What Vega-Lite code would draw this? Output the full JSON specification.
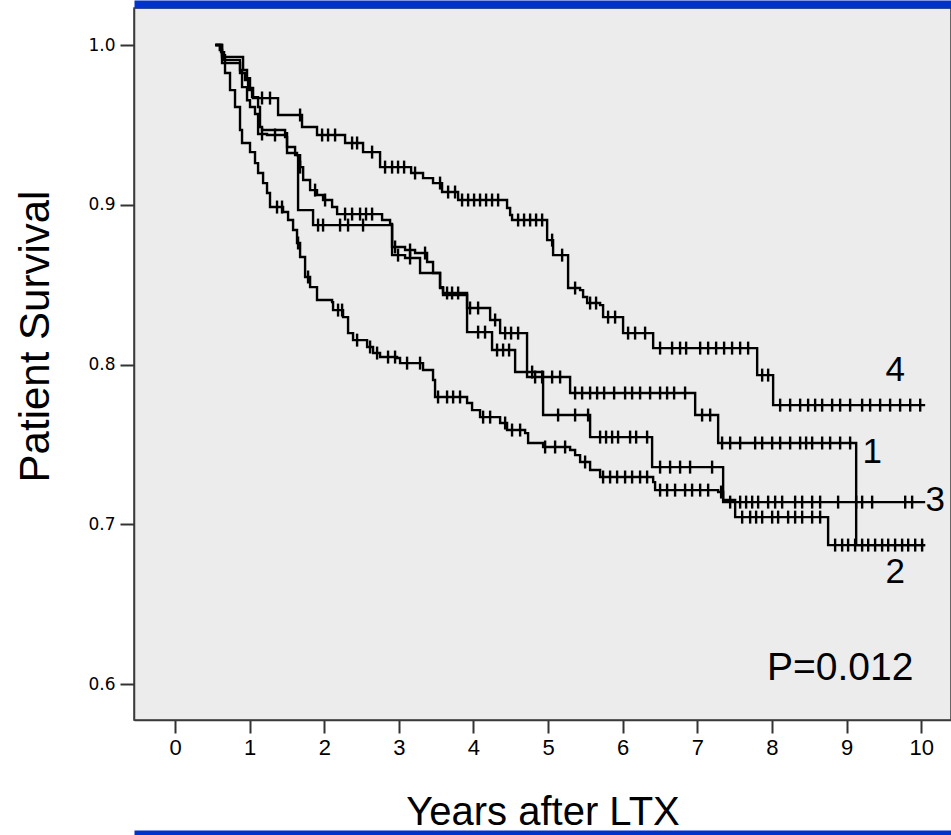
{
  "$schema": "https://vega.github.io/schema/vega-lite/v6.json",
  "width": 817,
  "height": 712,
  "autosize": {"type": "none"},
  "padding": {"left": 134, "top": 8, "right": 0, "bottom": 115},
  "background": "white",
  "config": {
    "view": {"fill": "#ececec", "stroke": "#3a3a3a", "strokeWidth": 1.5},
    "font": "Liberation Sans"
  },
  "resolve": {"axis": {"x": "independent", "y": "independent"}},
  "datasets": {
    "km": [
      {"g":"4","t":0.54,"s":1.0},{"g":"4","t":0.630,"s":0.9925},{"g":"4","t":0.912,"s":0.9844},{"g":"4","t":0.965,"s":0.9793},{"g":"4","t":1.005,"s":0.9731},{"g":"4","t":1.046,"s":0.9668},{"g":"4","t":1.381,"s":0.9562},{"g":"4","t":1.702,"s":0.9487},{"g":"4","t":1.903,"s":0.9437},{"g":"4","t":2.279,"s":0.9387},{"g":"4","t":2.520,"s":0.9330},{"g":"4","t":2.748,"s":0.9236},{"g":"4","t":3.164,"s":0.9199},{"g":"4","t":3.324,"s":0.9167},{"g":"4","t":3.458,"s":0.9136},{"g":"4","t":3.579,"s":0.9080},{"g":"4","t":3.794,"s":0.9030},{"g":"4","t":4.450,"s":0.8980},{"g":"4","t":4.491,"s":0.8936},{"g":"4","t":4.517,"s":0.8905},{"g":"4","t":4.987,"s":0.8779},{"g":"4","t":5.067,"s":0.8685},{"g":"4","t":5.268,"s":0.8479},{"g":"4","t":5.429,"s":0.8466},{"g":"4","t":5.469,"s":0.8423},{"g":"4","t":5.523,"s":0.8385},{"g":"4","t":5.697,"s":0.8372},{"g":"4","t":5.737,"s":0.8297},{"g":"4","t":6.005,"s":0.8197},{"g":"4","t":6.408,"s":0.8103},{"g":"4","t":7.802,"s":0.7934},{"g":"4","t":8.016,"s":0.7746},{"g":"4","t":10.054,"s":0.7746},
      {"g":"1","t":0.54,"s":1.0},{"g":"1","t":0.617,"s":0.9956},{"g":"1","t":0.657,"s":0.9906},{"g":"1","t":0.871,"s":0.9844},{"g":"1","t":0.898,"s":0.9737},{"g":"1","t":0.965,"s":0.9655},{"g":"1","t":1.005,"s":0.9612},{"g":"1","t":1.072,"s":0.9568},{"g":"1","t":1.113,"s":0.9443},{"g":"1","t":1.233,"s":0.9437},{"g":"1","t":1.475,"s":0.9424},{"g":"1","t":1.501,"s":0.9362},{"g":"1","t":1.609,"s":0.9311},{"g":"1","t":1.676,"s":0.9236},{"g":"1","t":1.717,"s":0.9155},{"g":"1","t":1.810,"s":0.9092},{"g":"1","t":1.903,"s":0.9061},{"g":"1","t":1.984,"s":0.9030},{"g":"1","t":2.105,"s":0.8986},{"g":"1","t":2.172,"s":0.8942},{"g":"1","t":2.775,"s":0.8905},{"g":"1","t":2.882,"s":0.8880},{"g":"1","t":2.909,"s":0.8736},{"g":"1","t":3.083,"s":0.8717},{"g":"1","t":3.217,"s":0.8698},{"g":"1","t":3.378,"s":0.8642},{"g":"1","t":3.458,"s":0.8573},{"g":"1","t":3.552,"s":0.8485},{"g":"1","t":3.592,"s":0.8448},{"g":"1","t":3.914,"s":0.8354},{"g":"1","t":4.223,"s":0.8279},{"g":"1","t":4.357,"s":0.8197},{"g":"1","t":4.718,"s":0.7922},{"g":"1","t":5.295,"s":0.7822},{"g":"1","t":6.971,"s":0.7684},{"g":"1","t":7.279,"s":0.7509},{"g":"1","t":9.129,"s":0.6870},{"g":"1","t":10.054,"s":0.6870},
      {"g":"3","t":0.54,"s":1.0},{"g":"3","t":0.630,"s":0.9937},{"g":"3","t":0.670,"s":0.9887},{"g":"3","t":0.871,"s":0.9825},{"g":"3","t":0.938,"s":0.9781},{"g":"3","t":0.979,"s":0.9718},{"g":"3","t":1.032,"s":0.9674},{"g":"3","t":1.113,"s":0.9612},{"g":"3","t":1.139,"s":0.9487},{"g":"3","t":1.166,"s":0.9468},{"g":"3","t":1.475,"s":0.9449},{"g":"3","t":1.501,"s":0.9324},{"g":"3","t":1.635,"s":0.9311},{"g":"3","t":1.649,"s":0.8967},{"g":"3","t":1.850,"s":0.8873},{"g":"3","t":2.909,"s":0.8685},{"g":"3","t":3.083,"s":0.8667},{"g":"3","t":3.284,"s":0.8573},{"g":"3","t":3.552,"s":0.8479},{"g":"3","t":3.592,"s":0.8435},{"g":"3","t":3.914,"s":0.8203},{"g":"3","t":4.249,"s":0.8091},{"g":"3","t":4.558,"s":0.7953},{"g":"3","t":4.933,"s":0.7684},{"g":"3","t":5.563,"s":0.7546},{"g":"3","t":6.394,"s":0.7358},{"g":"3","t":7.346,"s":0.7139},{"g":"3","t":10.054,"s":0.7139},
      {"g":"2","t":0.54,"s":1.0},{"g":"2","t":0.600,"s":0.9969},{"g":"2","t":0.630,"s":0.9887},{"g":"2","t":0.670,"s":0.9825},{"g":"2","t":0.737,"s":0.9718},{"g":"2","t":0.804,"s":0.9612},{"g":"2","t":0.871,"s":0.9468},{"g":"2","t":0.898,"s":0.9387},{"g":"2","t":1.005,"s":0.9330},{"g":"2","t":1.072,"s":0.9261},{"g":"2","t":1.113,"s":0.9199},{"g":"2","t":1.180,"s":0.9136},{"g":"2","t":1.233,"s":0.9074},{"g":"2","t":1.273,"s":0.8986},{"g":"2","t":1.448,"s":0.8955},{"g":"2","t":1.515,"s":0.8905},{"g":"2","t":1.582,"s":0.8842},{"g":"2","t":1.635,"s":0.8761},{"g":"2","t":1.676,"s":0.8673},{"g":"2","t":1.743,"s":0.8548},{"g":"2","t":1.810,"s":0.8485},{"g":"2","t":1.903,"s":0.8404},{"g":"2","t":2.105,"s":0.8391},{"g":"2","t":2.118,"s":0.8341},{"g":"2","t":2.252,"s":0.8297},{"g":"2","t":2.319,"s":0.8197},{"g":"2","t":2.386,"s":0.8153},{"g":"2","t":2.574,"s":0.8110},{"g":"2","t":2.654,"s":0.8072},{"g":"2","t":2.748,"s":0.8047},{"g":"2","t":2.976,"s":0.8041},{"g":"2","t":3.016,"s":0.8009},{"g":"2","t":3.324,"s":0.7966},{"g":"2","t":3.458,"s":0.7903},{"g":"2","t":3.485,"s":0.7797},{"g":"2","t":3.914,"s":0.7759},{"g":"2","t":3.981,"s":0.7715},{"g":"2","t":4.088,"s":0.7671},{"g":"2","t":4.357,"s":0.7634},{"g":"2","t":4.450,"s":0.7590},{"g":"2","t":4.692,"s":0.7571},{"g":"2","t":4.732,"s":0.7509},{"g":"2","t":4.933,"s":0.7484},{"g":"2","t":5.295,"s":0.7465},{"g":"2","t":5.362,"s":0.7433},{"g":"2","t":5.429,"s":0.7390},{"g":"2","t":5.563,"s":0.7340},{"g":"2","t":5.697,"s":0.7296},{"g":"2","t":6.408,"s":0.7264},{"g":"2","t":6.434,"s":0.7214},{"g":"2","t":7.279,"s":0.7202},{"g":"2","t":7.346,"s":0.7152},{"g":"2","t":7.507,"s":0.7045},{"g":"2","t":8.753,"s":0.6870},{"g":"2","t":10.054,"s":0.6870}
    ],
    "cens": [
      {"g":"4","t":1.166,"s":0.9668},{"g":"4","t":1.273,"s":0.9668},{"g":"4","t":1.676,"s":0.9562},{"g":"4","t":1.971,"s":0.9437},{"g":"4","t":2.051,"s":0.9437},{"g":"4","t":2.145,"s":0.9437},{"g":"4","t":2.373,"s":0.9387},{"g":"4","t":2.440,"s":0.9387},{"g":"4","t":2.641,"s":0.9330},{"g":"4","t":2.815,"s":0.9236},{"g":"4","t":2.909,"s":0.9236},{"g":"4","t":2.989,"s":0.9236},{"g":"4","t":3.070,"s":0.9236},{"g":"4","t":3.217,"s":0.9199},{"g":"4","t":3.552,"s":0.9136},{"g":"4","t":3.660,"s":0.9080},{"g":"4","t":3.753,"s":0.9080},{"g":"4","t":3.847,"s":0.9030},{"g":"4","t":3.928,"s":0.9030},{"g":"4","t":4.008,"s":0.9030},{"g":"4","t":4.088,"s":0.9030},{"g":"4","t":4.169,"s":0.9030},{"g":"4","t":4.249,"s":0.9030},{"g":"4","t":4.330,"s":0.9030},{"g":"4","t":4.598,"s":0.8905},{"g":"4","t":4.678,"s":0.8905},{"g":"4","t":4.759,"s":0.8905},{"g":"4","t":4.839,"s":0.8905},{"g":"4","t":4.920,"s":0.8905},{"g":"4","t":5.054,"s":0.8779},{"g":"4","t":5.188,"s":0.8685},{"g":"4","t":5.362,"s":0.8479},{"g":"4","t":5.563,"s":0.8385},{"g":"4","t":5.643,"s":0.8385},{"g":"4","t":5.804,"s":0.8297},{"g":"4","t":5.898,"s":0.8297},{"g":"4","t":6.072,"s":0.8197},{"g":"4","t":6.166,"s":0.8197},{"g":"4","t":6.300,"s":0.8197},{"g":"4","t":6.501,"s":0.8103},{"g":"4","t":6.662,"s":0.8103},{"g":"4","t":6.769,"s":0.8103},{"g":"4","t":6.850,"s":0.8103},{"g":"4","t":7.038,"s":0.8103},{"g":"4","t":7.145,"s":0.8103},{"g":"4","t":7.252,"s":0.8103},{"g":"4","t":7.359,"s":0.8103},{"g":"4","t":7.466,"s":0.8103},{"g":"4","t":7.574,"s":0.8103},{"g":"4","t":7.681,"s":0.8103},{"g":"4","t":7.869,"s":0.7934},{"g":"4","t":7.949,"s":0.7934},{"g":"4","t":8.110,"s":0.7746},{"g":"4","t":8.244,"s":0.7746},{"g":"4","t":8.378,"s":0.7746},{"g":"4","t":8.485,"s":0.7746},{"g":"4","t":8.579,"s":0.7746},{"g":"4","t":8.673,"s":0.7746},{"g":"4","t":8.807,"s":0.7746},{"g":"4","t":8.914,"s":0.7746},{"g":"4","t":9.048,"s":0.7746},{"g":"4","t":9.209,"s":0.7746},{"g":"4","t":9.316,"s":0.7746},{"g":"4","t":9.450,"s":0.7746},{"g":"4","t":9.584,"s":0.7746},{"g":"4","t":9.718,"s":0.7746},{"g":"4","t":9.853,"s":0.7746},{"g":"4","t":9.987,"s":0.7746},
      {"g":"1","t":1.166,"s":0.9443},{"g":"1","t":1.340,"s":0.9437},{"g":"1","t":1.676,"s":0.9236},{"g":"1","t":1.877,"s":0.9092},{"g":"1","t":2.011,"s":0.9030},{"g":"1","t":2.279,"s":0.8942},{"g":"1","t":2.373,"s":0.8942},{"g":"1","t":2.480,"s":0.8942},{"g":"1","t":2.560,"s":0.8942},{"g":"1","t":2.641,"s":0.8942},{"g":"1","t":2.949,"s":0.8736},{"g":"1","t":3.150,"s":0.8717},{"g":"1","t":3.351,"s":0.8698},{"g":"1","t":3.646,"s":0.8448},{"g":"1","t":3.713,"s":0.8448},{"g":"1","t":3.794,"s":0.8448},{"g":"1","t":3.954,"s":0.8354},{"g":"1","t":4.062,"s":0.8354},{"g":"1","t":4.290,"s":0.8279},{"g":"1","t":4.424,"s":0.8197},{"g":"1","t":4.504,"s":0.8197},{"g":"1","t":4.598,"s":0.8197},{"g":"1","t":4.826,"s":0.7922},{"g":"1","t":4.920,"s":0.7922},{"g":"1","t":5.054,"s":0.7922},{"g":"1","t":5.161,"s":0.7922},{"g":"1","t":5.362,"s":0.7822},{"g":"1","t":5.456,"s":0.7822},{"g":"1","t":5.563,"s":0.7822},{"g":"1","t":5.657,"s":0.7822},{"g":"1","t":5.751,"s":0.7822},{"g":"1","t":5.885,"s":0.7822},{"g":"1","t":6.032,"s":0.7822},{"g":"1","t":6.126,"s":0.7822},{"g":"1","t":6.233,"s":0.7822},{"g":"1","t":6.367,"s":0.7822},{"g":"1","t":6.501,"s":0.7822},{"g":"1","t":6.595,"s":0.7822},{"g":"1","t":6.689,"s":0.7822},{"g":"1","t":6.836,"s":0.7822},{"g":"1","t":7.064,"s":0.7684},{"g":"1","t":7.172,"s":0.7684},{"g":"1","t":7.332,"s":0.7509},{"g":"1","t":7.440,"s":0.7509},{"g":"1","t":7.574,"s":0.7509},{"g":"1","t":7.775,"s":0.7509},{"g":"1","t":7.869,"s":0.7509},{"g":"1","t":8.003,"s":0.7509},{"g":"1","t":8.110,"s":0.7509},{"g":"1","t":8.244,"s":0.7509},{"g":"1","t":8.378,"s":0.7509},{"g":"1","t":8.458,"s":0.7509},{"g":"1","t":8.539,"s":0.7509},{"g":"1","t":8.673,"s":0.7509},{"g":"1","t":8.780,"s":0.7509},{"g":"1","t":8.914,"s":0.7509},{"g":"1","t":9.048,"s":0.7509},
      {"g":"3","t":1.917,"s":0.8873},{"g":"3","t":1.984,"s":0.8873},{"g":"3","t":2.212,"s":0.8873},{"g":"3","t":2.319,"s":0.8873},{"g":"3","t":2.520,"s":0.8873},{"g":"3","t":2.989,"s":0.8685},{"g":"3","t":3.150,"s":0.8667},{"g":"3","t":4.062,"s":0.8203},{"g":"3","t":4.155,"s":0.8203},{"g":"3","t":4.316,"s":0.8091},{"g":"3","t":4.397,"s":0.8091},{"g":"3","t":4.477,"s":0.8091},{"g":"3","t":4.786,"s":0.7953},{"g":"3","t":5.134,"s":0.7684},{"g":"3","t":5.362,"s":0.7684},{"g":"3","t":5.536,"s":0.7684},{"g":"3","t":5.697,"s":0.7546},{"g":"3","t":5.777,"s":0.7546},{"g":"3","t":5.858,"s":0.7546},{"g":"3","t":5.938,"s":0.7546},{"g":"3","t":6.099,"s":0.7546},{"g":"3","t":6.180,"s":0.7546},{"g":"3","t":6.327,"s":0.7546},{"g":"3","t":6.501,"s":0.7358},{"g":"3","t":6.635,"s":0.7358},{"g":"3","t":6.769,"s":0.7358},{"g":"3","t":6.903,"s":0.7358},{"g":"3","t":7.198,"s":0.7358},{"g":"3","t":7.440,"s":0.7139},{"g":"3","t":7.574,"s":0.7139},{"g":"3","t":7.654,"s":0.7139},{"g":"3","t":7.735,"s":0.7139},{"g":"3","t":7.815,"s":0.7139},{"g":"3","t":7.949,"s":0.7139},{"g":"3","t":8.043,"s":0.7139},{"g":"3","t":8.137,"s":0.7139},{"g":"3","t":8.311,"s":0.7139},{"g":"3","t":8.405,"s":0.7139},{"g":"3","t":8.539,"s":0.7139},{"g":"3","t":8.646,"s":0.7139},{"g":"3","t":8.887,"s":0.7139},{"g":"3","t":9.129,"s":0.7139},{"g":"3","t":9.209,"s":0.7139},{"g":"3","t":9.343,"s":0.7139},{"g":"3","t":9.786,"s":0.7139},{"g":"3","t":9.879,"s":0.7139},
      {"g":"2","t":1.367,"s":0.8986},{"g":"2","t":1.434,"s":0.8986},{"g":"2","t":1.649,"s":0.8761},{"g":"2","t":1.783,"s":0.8548},{"g":"2","t":2.185,"s":0.8341},{"g":"2","t":2.239,"s":0.8341},{"g":"2","t":2.440,"s":0.8153},{"g":"2","t":2.614,"s":0.8110},{"g":"2","t":2.708,"s":0.8072},{"g":"2","t":2.855,"s":0.8047},{"g":"2","t":2.949,"s":0.8047},{"g":"2","t":3.110,"s":0.8009},{"g":"2","t":3.284,"s":0.8009},{"g":"2","t":3.525,"s":0.7797},{"g":"2","t":3.646,"s":0.7797},{"g":"2","t":3.727,"s":0.7797},{"g":"2","t":3.820,"s":0.7797},{"g":"2","t":4.129,"s":0.7671},{"g":"2","t":4.223,"s":0.7671},{"g":"2","t":4.424,"s":0.7634},{"g":"2","t":4.517,"s":0.7590},{"g":"2","t":4.625,"s":0.7590},{"g":"2","t":4.960,"s":0.7484},{"g":"2","t":5.094,"s":0.7484},{"g":"2","t":5.228,"s":0.7484},{"g":"2","t":5.496,"s":0.7390},{"g":"2","t":5.737,"s":0.7296},{"g":"2","t":5.831,"s":0.7296},{"g":"2","t":5.925,"s":0.7296},{"g":"2","t":6.032,"s":0.7296},{"g":"2","t":6.126,"s":0.7296},{"g":"2","t":6.233,"s":0.7296},{"g":"2","t":6.327,"s":0.7296},{"g":"2","t":6.501,"s":0.7214},{"g":"2","t":6.595,"s":0.7214},{"g":"2","t":6.702,"s":0.7214},{"g":"2","t":6.836,"s":0.7214},{"g":"2","t":6.930,"s":0.7214},{"g":"2","t":7.038,"s":0.7214},{"g":"2","t":7.145,"s":0.7214},{"g":"2","t":7.319,"s":0.7202},{"g":"2","t":7.601,"s":0.7045},{"g":"2","t":7.708,"s":0.7045},{"g":"2","t":7.788,"s":0.7045},{"g":"2","t":7.869,"s":0.7045},{"g":"2","t":8.003,"s":0.7045},{"g":"2","t":8.083,"s":0.7045},{"g":"2","t":8.217,"s":0.7045},{"g":"2","t":8.311,"s":0.7045},{"g":"2","t":8.405,"s":0.7045},{"g":"2","t":8.539,"s":0.7045},{"g":"2","t":8.646,"s":0.7045},{"g":"2","t":8.847,"s":0.6870},{"g":"2","t":8.941,"s":0.6870},{"g":"2","t":9.021,"s":0.6870},{"g":"2","t":9.115,"s":0.6870},{"g":"2","t":9.209,"s":0.6870},{"g":"2","t":9.290,"s":0.6870},{"g":"2","t":9.383,"s":0.6870},{"g":"2","t":9.477,"s":0.6870},{"g":"2","t":9.558,"s":0.6870},{"g":"2","t":9.651,"s":0.6870},{"g":"2","t":9.745,"s":0.6870},{"g":"2","t":9.826,"s":0.6870},{"g":"2","t":9.920,"s":0.6870},{"g":"2","t":10.013,"s":0.6870}
    ],
    "labels": [
      {"t":9.651,"s":0.7966,"txt":"4"},
      {"t":9.343,"s":0.7452,"txt":"1"},
      {"t":10.188,"s":0.7152,"txt":"3"},
      {"t":9.651,"s":0.6701,"txt":"2"}
    ],
    "pval": [
      {"t":8.914,"s":0.6100,"txt":"P=0.012"}
    ]
  },
  "layer": [
    {
      "data": {"name": "km"},
      "mark": {"type": "line", "interpolate": "step-after", "color": "black", "strokeWidth": 2.4},
      "encoding": {
        "x": {"field": "t", "type": "quantitative", "scale": {"domain": [-0.55, 10.4], "nice": false, "zero": false},
          "axis": {"orient": "bottom", "values": [0,1,2,3,4,5,6,7,8,9,10], "title": "Years after LTX", "titleFont": "Liberation Sans", "titleFontSize": 40, "titleFontWeight": "normal", "titleColor": "black", "titlePadding": 34,
            "labelFont": "Liberation Sans", "labelFontSize": 22, "labelColor": "black", "labelPadding": 4, "tickSize": 13, "tickWidth": 2, "tickColor": "#333333", "domainColor": "#3a3a3a", "domainWidth": 1.5, "grid": false}},
        "y": {"field": "s", "type": "quantitative", "scale": {"domain": [0.5775, 1.0232], "nice": false, "zero": false},
          "axis": {"orient": "left", "values": [0.6, 0.7, 0.8, 0.9, 1.0], "format": ".1f", "title": "Patient Survival", "titleFont": "Liberation Sans", "titleFontSize": 42, "titleFontWeight": "normal", "titleColor": "black", "titlePadding": 30, "titleY": 328,
            "labelFont": "DejaVu Sans", "labelFontSize": 17, "labelColor": "black", "labelPadding": 5, "tickSize": 14, "tickWidth": 2, "tickColor": "#333333", "domainColor": "#3a3a3a", "domainWidth": 1.5, "grid": false}},
        "detail": {"field": "g"}
      }
    },
    {
      "data": {"name": "cens"},
      "mark": {"type": "tick", "orient": "vertical", "color": "black", "thickness": 2.4, "size": 13, "opacity": 1},
      "encoding": {
        "x": {"field": "t", "type": "quantitative", "scale": {"domain": [-0.55, 10.4], "nice": false, "zero": false}, "axis": null},
        "y": {"field": "s", "type": "quantitative", "scale": {"domain": [0.5775, 1.0232], "nice": false, "zero": false}, "axis": null}
      }
    },
    {
      "data": {"name": "labels"},
      "mark": {"type": "text", "fontSize": 35, "color": "black", "font": "Liberation Sans", "align": "center", "baseline": "middle"},
      "encoding": {
        "x": {"field": "t", "type": "quantitative", "scale": {"domain": [-0.55, 10.4], "nice": false, "zero": false},
          "axis": {"orient": "top", "labels": false, "ticks": false, "title": null, "grid": false, "domainColor": "#0033cc", "domainWidth": 8, "offset": 4}},
        "y": {"field": "s", "type": "quantitative", "scale": {"domain": [0.5775, 1.0232], "nice": false, "zero": false}, "axis": null},
        "text": {"field": "txt"}
      }
    },
    {
      "data": {"name": "pval"},
      "mark": {"type": "text", "fontSize": 39, "color": "black", "font": "Liberation Sans", "align": "center", "baseline": "middle"},
      "encoding": {
        "x": {"field": "t", "type": "quantitative", "scale": {"domain": [-0.55, 10.4], "nice": false, "zero": false},
          "axis": {"orient": "bottom", "labels": false, "ticks": false, "title": null, "grid": false, "domainColor": "#0033cc", "domainWidth": 6, "offset": 113}},
        "y": {"field": "s", "type": "quantitative", "scale": {"domain": [0.5775, 1.0232], "nice": false, "zero": false}, "axis": null},
        "text": {"field": "txt"}
      }
    }
  ]
}
